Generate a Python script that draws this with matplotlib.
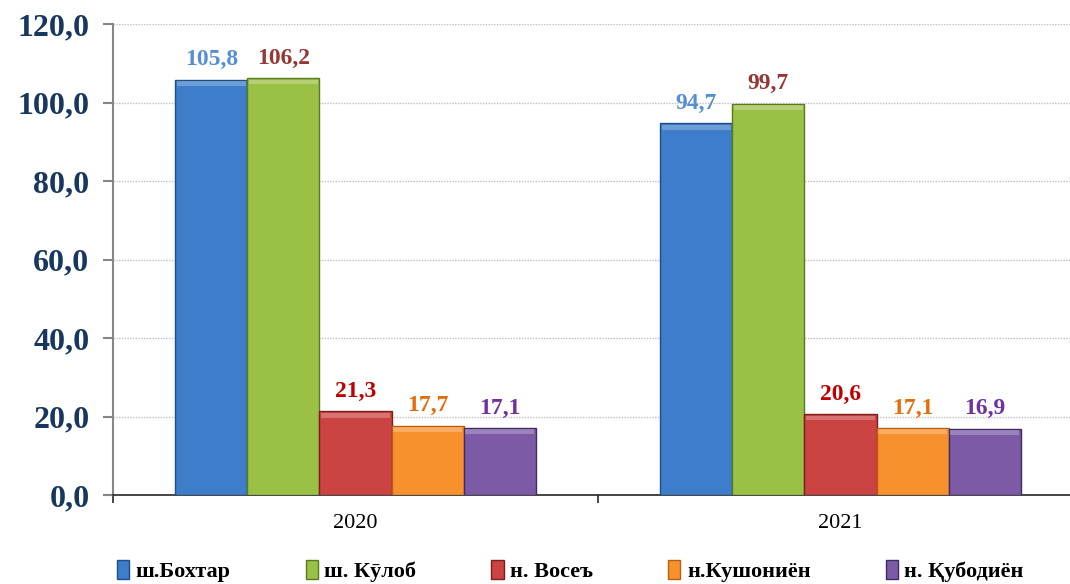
import numpy as np
import matplotlib.pyplot as plt

plt.rcParams['font.family'] = ['Liberation Serif', 'DejaVu Serif']

years = ["2020", "2021"]
series = ["ш.Бохтар", "ш. Кӯлоб", "н. Восеъ", "н.Кушониён", "н. Қубодиён"]
values = [
    [105.8, 94.7],
    [106.2, 99.7],
    [21.3, 20.6],
    [17.7, 17.1],
    [17.1, 16.9],
]
yticks = [0, 20, 40, 60, 80, 100, 120]

bar_colors = ["#3D7DCA", "#9BC046", "#CB4342", "#F7912E", "#7D5AA6"]
edge_colors = ["#1F4E8C", "#5A7A1E", "#7A1F1E", "#B85E0E", "#3E2A66"]
label_colors = ["#558ED5", "#953735", "#C00000", "#E46C0A", "#7030A0"]

fig = plt.figure(figsize=(10.7, 5.84), dpi=100)
ax = fig.add_axes([113 / 1070, 89 / 584, 970 / 1070, 471 / 584])

x = np.arange(len(years))
w = 0.1485
for i, (name, vals) in enumerate(zip(series, values)):
    pos = x + (i - 2) * w
    bars = ax.bar(pos, vals, width=w, color=bar_colors[i], edgecolor=edge_colors[i],
                  linewidth=1.0, label=name, zorder=3)
    # lighter top bevel
    ax.bar(pos, [1.2] * len(vals), width=w * 0.96, bottom=np.array(vals) - 1.6,
           color="white", alpha=0.25, linewidth=0, zorder=4)
    for b, v in zip(bars, vals):
        ax.text(b.get_x() + b.get_width() / 2, v + 2.4, f"{v:.1f}".replace(".", ","),
                ha="center", va="bottom", fontsize=17, fontweight="bold",
                color=label_colors[i], zorder=5)

ax.set_xlim(-0.5, 1.5)
ax.set_ylim(0, 120)
ax.set_yticks(yticks)
ax.set_yticklabels([f"{t:.1f}".replace(".", ",") for t in yticks],
                   fontsize=23, fontweight="bold", color="#17375E")
ax.set_xticks(x)
ax.set_xticklabels(years, fontsize=16)
ax.set_xticks([-0.5, 0.5, 1.5], minor=True)
ax.tick_params(axis="x", which="major", length=0, pad=14)
ax.tick_params(axis="x", which="minor", length=6, width=1.2, color="#262626")
ax.tick_params(axis="y", length=7, width=1.5, color="#868686", pad=10)

ax.grid(axis="y", linestyle=(0, (1, 1)), color="#BFBFBF", linewidth=1, zorder=0)
for s in ["top", "right"]:
    ax.spines[s].set_visible(False)
ax.spines["left"].set_color("#868686")
ax.spines["left"].set_linewidth(1.5)
ax.spines["bottom"].set_color("#262626")
ax.spines["bottom"].set_linewidth(1.2)

fig.legend(loc="center", bbox_to_anchor=(0.533, 0.022), ncol=5, frameon=False,
           prop={"size": 16, "weight": "bold"}, handlelength=0.55, handleheight=0.9,
           handletextpad=0.3, columnspacing=3.37)

fig.savefig("out.png", dpi=100)
